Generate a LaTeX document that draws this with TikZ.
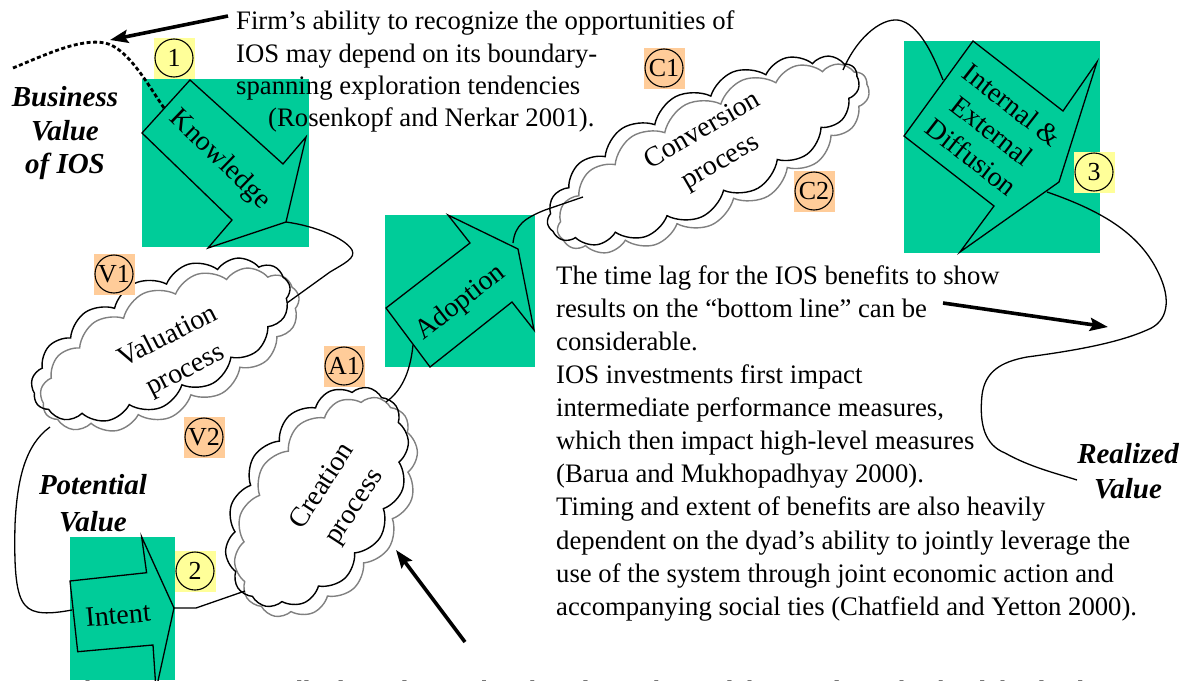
\documentclass[tikz,border=0pt]{standalone}
\usepackage{fontspec}
\setmainfont{Liberation Serif}
\usetikzlibrary{shapes.symbols,arrows.meta}
\definecolor{stagegreen}{RGB}{0,204,153}
\definecolor{tagorange}{RGB}{255,204,153}
\definecolor{tagyellow}{RGB}{255,255,153}
\definecolor{echogray}{RGB}{128,128,128}
\tikzset{
  blockarrow/.style={draw=black, line width=1.3pt, line join=miter},
  flow/.style={draw=black, line width=1.3pt},
  bigarrow/.style={draw=black, line width=3.6pt, -{Stealth[length=18pt,width=13pt,inset=3pt]}},
  body/.style={font=\fontsize{26.7}{33.2}\selectfont, inner sep=0pt, anchor=base west},
  lbl/.style={font=\fontsize{28}{38}\selectfont, inner sep=0pt, align=center},
  vlabel/.style={font=\fontsize{29}{33}\selectfont\bfseries\itshape, inner sep=0pt, anchor=base},
  tagbox/.style={minimum size=41pt, inner sep=0pt},
  ring/.style={circle, draw=black, line width=1.1pt, minimum size=38pt, inner sep=0pt, font=\fontsize{26}{26}\selectfont},
  puffy/.style={cloud, cloud ignores aspect, cloud puff arc=105, line width=1.4pt, inner sep=0pt},
}
\begin{document}
\begin{tikzpicture}[x=1pt,y=-1pt]
\clip (0,0) rectangle (1191,680);

% green stage panels
\fill[stagegreen] (142,79) rectangle (309,247);
\fill[stagegreen] (385,215) rectangle (535,367);
\fill[stagegreen] (904,41) rectangle (1100,253);
\fill[stagegreen] (70,537) rectangle (175,680);

% block arrows of the four stages
\draw[blockarrow] (190,80) -- (283,164) -- (306,137) -- (286,222) -- (208,248) -- (232,220) -- (142,133) -- cycle;
\draw[blockarrow] (386,308) -- (470,243) -- (448,215) -- (518,249) -- (534,330) -- (512,302) -- (430,367) -- cycle;
\draw[blockarrow] (973,41) -- (1063,111) -- (1097,62) -- (1059,182) -- (960,252) -- (994,206) -- (904,136) -- cycle;
\draw[blockarrow] (70,581) -- (146.6,572.7) -- (141.6,536.7) -- (174,608) -- (156,690) -- (153,645) -- (77.7,651.7) -- cycle;

\node[lbl, rotate=-44] (knowT) at (220,160) {Knowledge};
\node[lbl, rotate=38] (adoT) at (461,303) {Adoption};
\node[lbl, rotate=-38, font=\fontsize{28}{33}\selectfont] (difT) at (992,131) {Internal \&\\External\\Diffusion};
\node[lbl, rotate=5] (intT) at (118,615) {Intent};

% process clouds with their grey echo
\node[puffy, draw=echogray, cloud puffs=15, minimum width=280pt, minimum height=125pt, rotate=25] (valE) at (170,350) {};
\node[puffy, draw=black, cloud puffs=15, minimum width=280pt, minimum height=125pt, rotate=25] (val) at (161,340) {};
\node[lbl, rotate=27] (valT) at (177,354) {Valuation\\process};

\node[puffy, draw=echogray, cloud puffs=14, minimum width=245pt, minimum height=150pt, rotate=57] (creE) at (326,507) {};
\node[puffy, draw=black, cloud puffs=14, minimum width=245pt, minimum height=150pt, rotate=57] (cre) at (317,497) {};
\node[lbl, rotate=57] (creT) at (339,497) {Creation\\process};

\node[puffy, draw=echogray, cloud puffs=17, minimum width=345pt, minimum height=120pt, rotate=27] (conE) at (713,158) {};
\node[puffy, draw=black, cloud puffs=17, minimum width=345pt, minimum height=120pt, rotate=27] (con) at (703,150) {};
\node[lbl, rotate=30, font=\fontsize{28}{36}\selectfont] (conT) at (712,147) {Conversion\\process};

% numbered tags
\node[tagbox, fill=tagyellow] (tag1) at (174,58) {};
\node[ring] (ring1) at (tag1) {1};
\node[tagbox, fill=tagyellow] (tag2) at (195,571) {};
\node[ring] (ring2) at (tag2) {2};
\node[tagbox, fill=tagyellow] (tag3) at (1094,172) {};
\node[ring] (ring3) at (tag3) {3};
\node[tagbox, fill=tagorange] (tagV1) at (114,274) {};
\node[ring] (ringV1) at (tagV1) {V1};
\node[tagbox, fill=tagorange] (tagV2) at (204,437) {};
\node[ring] (ringV2) at (tagV2) {V2};
\node[tagbox, fill=tagorange] (tagA1) at (344,366) {};
\node[ring] (ringA1) at (tagA1) {A1};
\node[tagbox, fill=tagorange] (tagC1) at (664,68) {};
\node[ring] (ringC1) at (tagC1) {C1};
\node[tagbox, fill=tagorange] (tagC2) at (814,191) {};
\node[ring] (ringC2) at (tagC2) {C2};

% attachment points of the flow line
\coordinate (kTip) at (286,222);
\coordinate (valIn) at (287,303);
\coordinate (valOut) at (50,427);
\coordinate (intIn) at (72,610);
\coordinate (intTip) at (174,608);
\coordinate (intMid) at (196,608);
\coordinate (creIn) at (245,591);
\coordinate (creOut) at (386,402);
\coordinate (adoIn) at (413,345);
\coordinate (adoOut) at (513,243);
\coordinate (conIn) at (583,197);
\coordinate (conOut) at (843,70);
\coordinate (difIn) at (943,80);
\coordinate (difOut) at (1047,192);
\coordinate (realEnd) at (1077,480);

\draw[flow] (kTip) .. controls (315,226) and (345,238) .. (352,250) .. controls (356,258) and (345,263) .. (330,272) -- (valIn);
\draw[flow] (valOut) .. controls (25,445) and (17,480) .. (15,525) .. controls (14,570) and (16,595) .. (25,605) .. controls (33,615) and (50,614) .. (intIn);
\draw[flow] (intTip) -- (intMid) -- (creIn);
\draw[flow] (creOut) .. controls (400,392) and (410,375) .. (adoIn);
\draw[flow] (adoOut) .. controls (515,225) and (525,218) .. (545,210) -- (conIn);
\draw[flow] (conOut) .. controls (858,35) and (885,15) .. (902,21) .. controls (922,28) and (935,60) .. (difIn);
\draw[flow] (difOut) .. controls (1105,212) and (1140,235) .. (1158,272) .. controls (1172,300) and (1168,322) .. (1147,330) .. controls (1120,342) and (1080,350) .. (1027,357) .. controls (1000,362) and (985,372) .. (982,395) .. controls (979,425) and (985,445) .. (1005,453) .. controls (1030,467) and (1055,473) .. (realEnd);

% exploration boundary (dashed) and its pointer
\coordinate (dashA) at (13,68);
\coordinate (dashB) at (105,43);
\coordinate (dashC) at (164,108);
\draw[line width=2.8pt, dash pattern=on 4pt off 2.5pt] (dashA) .. controls (45,55) and (80,38) .. (dashB) .. controls (128,48) and (148,85) .. (dashC);
\coordinate (noteTail) at (228,16);
\coordinate (noteHead) at (110,40);
\draw[bigarrow] (noteTail) -- (noteHead);

% value labels
\node[vlabel] (bv1) at (65,106) {Business};
\node[vlabel] (bv2) at (65,140) {Value};
\node[vlabel] (bv3) at (65,173) {of IOS};
\node[vlabel] (pv1) at (93,494) {Potential};
\node[vlabel] (pv2) at (93,531) {Value};
\node[vlabel] (rv1) at (1128,463) {Realized};
\node[vlabel] (rv2) at (1128,498) {Value};

% annotations
\node[body] (t1) at (236,29) {Firm’s ability to recognize the opportunities of};
\node[body] (t2) at (236,62) {IOS may depend on its boundary-};
\node[body] (t3) at (236,94) {spanning exploration tendencies};
\node[body] (t4) at (268,126) {(Rosenkopf and Nerkar 2001).};

\node[body] (r1) at (556,284) {The time lag for the IOS benefits to show};
\node[body] (r2) at (556,317) {results on the “bottom line” can be};
\node[body] (r3) at (556,350) {considerable.};
\node[body] (r4) at (556,383) {IOS investments first impact};
\node[body] (r5) at (556,416) {intermediate performance measures,};
\node[body] (r6) at (556,449) {which then impact high-level measures};
\node[body] (r7) at (556,482) {(Barua and Mukhopadhyay 2000).};
\node[body] (r8) at (556,515) {Timing and extent of benefits are also heavily};
\node[body] (r9) at (556,549) {dependent on the dyad’s ability to jointly leverage the};
\node[body] (r10) at (556,582) {use of the system through joint economic action and};
\node[body] (r11) at (556,615) {accompanying social ties (Chatfield and Yetton 2000).};

\coordinate (lagTail) at (943,303);
\coordinate (lagHead) at (1108,327);
\draw[bigarrow] (lagTail) -- (lagHead);

\node[body] (b1) at (45,699) {Such IOS are strategically dependent within the relationship and the social ties that bind the dyad’s}; 
\coordinate (creTail) at (465,642);
\coordinate (creHead) at (396,550);
\draw[bigarrow] (creTail) -- (creHead);
\end{tikzpicture}
\end{document}
